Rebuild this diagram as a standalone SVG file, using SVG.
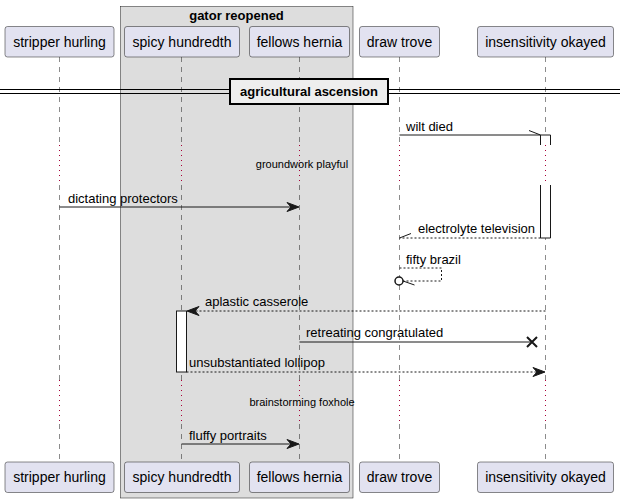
<svg xmlns="http://www.w3.org/2000/svg" width="624" height="503" viewBox="0 0 624 503">
<defs>
<style>
text{font-family:"Liberation Sans",Arial,sans-serif;fill:#000}
.pn{font-size:14px;text-anchor:middle}
.msg{font-size:13px}
.dl{font-size:11px;text-anchor:middle}
.b{font-weight:bold;font-size:13px;text-anchor:middle}
.pbox{fill:#E2E2F0;stroke:#181818;stroke-width:0.5}
.life{stroke:#181818;stroke-width:0.5;stroke-dasharray:5,5;fill:none}
.dot{stroke:#A80036;stroke-width:1;stroke-dasharray:1,4;fill:none}
.sol{stroke:#181818;stroke-width:1;fill:none}
.dash{stroke:#181818;stroke-width:1;stroke-dasharray:2,2;fill:none}
.head{fill:#181818;stroke:#181818;stroke-width:1}
.act{fill:#FFFFFF;stroke:#181818;stroke-width:1}
</style>
</defs>
<rect width="624" height="503" fill="#FFFFFF"/>
<g id="group-gator-reopened">
<rect x="120.5" y="6.5" width="232.5" height="491.5" fill="#DDDDDD" stroke="#181818" stroke-width="0.5"/>
<text class="b" x="236.5" y="19.5">gator reopened</text>
</g>
<g id="lifelines">
<path class="life" d="M59.5,57 V145 M59.5,185 V380 M59.5,424 V462"/>
<path class="life" d="M181.5,57 V145 M181.5,185 V380 M181.5,424 V462"/>
<path class="life" d="M299.5,57 V145 M299.5,185 V380 M299.5,424 V462"/>
<path class="life" d="M399.5,57 V145 M399.5,185 V380 M399.5,424 V462"/>
<path class="life" d="M545.5,57 V145 M545.5,185 V380 M545.5,424 V462"/>
<path class="dot" d="M59.5,145 V185 M181.5,145 V185 M299.5,145 V185 M399.5,145 V185 M545.5,145 V185"/>
<path class="dot" d="M59.5,380 V424 M181.5,380 V424 M299.5,380 V424 M399.5,380 V424 M545.5,380 V424"/>
</g>
<g id="divider">
<line x1="0" y1="89.5" x2="620" y2="89.5" stroke="#000" stroke-width="1"/>
<line x1="0" y1="93.5" x2="620" y2="93.5" stroke="#000" stroke-width="1"/>
<rect x="230" y="79" width="158" height="25" fill="#EEEEEE" stroke="#000" stroke-width="2"/>
<text class="b" x="309" y="96">agricultural ascension</text>
</g>
<g id="p-stripper-hurling">
<rect class="pbox" x="5" y="26.5" width="109" height="30.5" rx="2.5"/>
<text class="pn" x="59.5" y="46.5">stripper hurling</text>
<rect class="pbox" x="5" y="462" width="109" height="30.5" rx="2.5"/>
<text class="pn" x="59.5" y="482">stripper hurling</text>
</g>
<g id="p-spicy-hundredth">
<rect class="pbox" x="124.5" y="26.5" width="115" height="30.5" rx="2.5"/>
<text class="pn" x="182" y="46.5">spicy hundredth</text>
<rect class="pbox" x="124.5" y="462" width="115" height="30.5" rx="2.5"/>
<text class="pn" x="182" y="482">spicy hundredth</text>
</g>
<g id="p-fellows-hernia">
<rect class="pbox" x="249.5" y="26.5" width="100" height="30.5" rx="2.5"/>
<text class="pn" x="299.5" y="46.5">fellows hernia</text>
<rect class="pbox" x="249.5" y="462" width="100" height="30.5" rx="2.5"/>
<text class="pn" x="299.5" y="482">fellows hernia</text>
</g>
<g id="p-draw-trove">
<rect class="pbox" x="359.5" y="26.5" width="80" height="30.5" rx="2.5"/>
<text class="pn" x="399.5" y="46.5">draw trove</text>
<rect class="pbox" x="359.5" y="462" width="80" height="30.5" rx="2.5"/>
<text class="pn" x="399.5" y="482">draw trove</text>
</g>
<g id="p-insensitivity-okayed">
<rect class="pbox" x="477.5" y="26.5" width="136" height="30.5" rx="2.5"/>
<text class="pn" x="545.5" y="46.5">insensitivity okayed</text>
<rect class="pbox" x="477.5" y="462" width="136" height="30.5" rx="2.5"/>
<text class="pn" x="545.5" y="482">insensitivity okayed</text>
</g>
<g id="activations">
<path class="act" d="M540.5,145 V135 H550.5 V145"/>
<path class="act" d="M540.5,185 V238 H550.5 V185"/>
<rect class="act" x="176.5" y="311" width="10" height="61"/>
</g>
<g id="connectors">
<line class="sol" x1="399.5" y1="135" x2="540.5" y2="135"/>
<line class="sol" x1="529" y1="130.5" x2="540.5" y2="135"/>
<text class="msg" x="406" y="131">wilt died</text>

<text class="dl" x="302" y="168">groundwork playful</text>

<line class="sol" x1="59.5" y1="207" x2="297" y2="207"/>
<polygon class="head" points="299,207 287,202.5 291,207 287,211.5"/>
<text class="msg" x="68" y="203">dictating protectors</text>

<line class="dash" x1="540.5" y1="238" x2="399.5" y2="238"/>
<line class="sol" x1="399.5" y1="238" x2="411" y2="233.5"/>
<text class="msg" x="418" y="233">electrolyte television</text>

<path class="dash" d="M399.5,268 H441.5 V281 H403"/>
<circle cx="399" cy="281" r="4" fill="#FFFFFF" stroke="#181818" stroke-width="1.5"/>
<line class="sol" x1="403" y1="281" x2="414.5" y2="285"/>
<text class="msg" x="406" y="264">fifty brazil</text>

<line class="dash" x1="545.5" y1="311" x2="189" y2="311"/>
<polygon class="head" points="187,311 199,306.5 195,311 199,315.5"/>
<text class="msg" x="205" y="306">aplastic casserole</text>

<line class="sol" x1="299.5" y1="342" x2="532" y2="342"/>
<path d="M527,337 L537,347 M527,347 L537,337" stroke="#181818" stroke-width="2" fill="none"/>
<text class="msg" x="306" y="337">retreating congratulated</text>

<line class="dash" x1="186.5" y1="372" x2="543" y2="372"/>
<polygon class="head" points="545,372 533,367.5 537,372 533,376.5"/>
<text class="msg" x="189" y="367">unsubstantiated lollipop</text>

<text class="dl" x="302" y="406">brainstorming foxhole</text>

<line class="sol" x1="181.5" y1="444" x2="297" y2="444"/>
<polygon class="head" points="299,444 287,439.5 291,444 287,448.5"/>
<text class="msg" x="189" y="440">fluffy portraits</text>
</g>
</svg>
